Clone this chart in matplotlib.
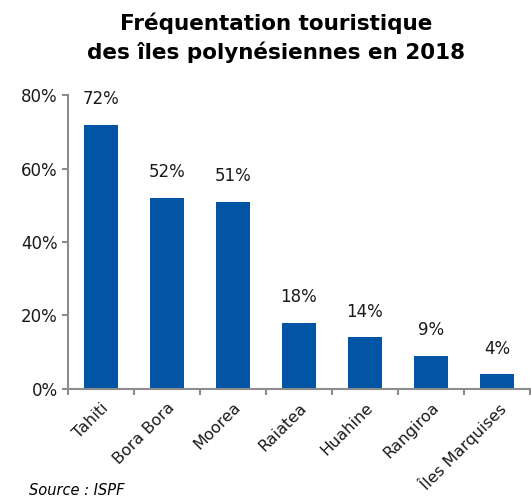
import numpy as np
import matplotlib.pyplot as plt

iles = ['Tahiti', 'Bora Bora', 'Moorea', 'Raiatea', 'Huahine', 'Rangiroa', 'Îles Marquises']
freq = [72, 52, 51, 18, 14, 9, 4]

fig = plt.figure(figsize=(5.31, 5.01), dpi=100)
ax = fig.add_axes([0.128, 0.224, 0.87, 0.586])

x = np.arange(len(iles))
ax.bar(x, freq, width=0.52, color='#0255a5')
for xi, v in zip(x, freq):
    ax.text(xi, v + 4.5, f'{v}%', ha='center', va='bottom', fontsize=12, color='#1a1a1a')

ax.set_xlim(-0.5, len(iles) - 0.5)
ax.set_ylim(0, 80)
ax.set_yticks(range(0, 81, 20))
ax.set_yticklabels([f'{t}%' for t in range(0, 81, 20)], fontsize=12, color='#1a1a1a')
ax.set_xticks(np.arange(-0.5, len(iles), 1))
ax.set_xticklabels([])
ax.set_xticks(x, minor=True)
ax.set_xticklabels(iles, minor=True, rotation=45, ha='right', rotation_mode='anchor',
                   fontsize=11.5, color='#1a1a1a')
ax.tick_params(axis='x', which='minor', length=0, pad=8)
ax.tick_params(axis='both', which='major', color='#8c8c8c', length=4, width=1.5)
for s in ['top', 'right']:
    ax.spines[s].set_visible(False)
for s in ['left', 'bottom']:
    ax.spines[s].set_color('#8c8c8c')
    ax.spines[s].set_linewidth(1.5)

fig.text(0.52, 0.975, 'Fréquentation touristique\ndes îles polynésiennes en 2018',
         ha='center', va='top', fontsize=15.5, fontweight='bold', linespacing=1.4)
fig.text(0.055, 0.005, 'Source : ISPF', ha='left', va='bottom', fontsize=10.5, style='italic')

fig.savefig('out.png', dpi=100)
